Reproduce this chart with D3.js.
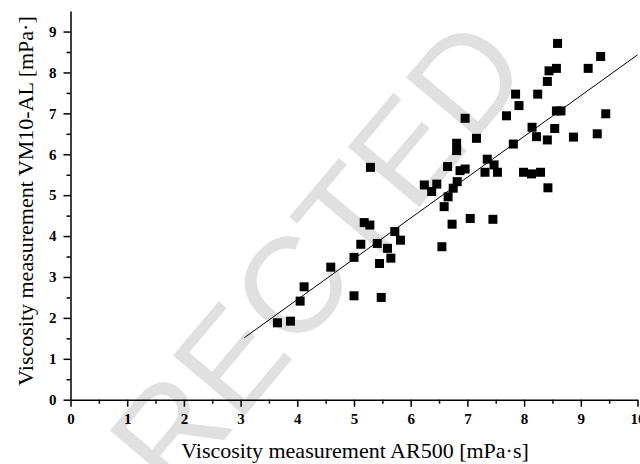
<!DOCTYPE html>
<html>
<head>
<meta charset="utf-8">
<script src="https://cdn.jsdelivr.net/npm/d3@7"></script>
<style>
  body { margin: 0; background: #fff; }
  text { font-family: "Liberation Serif", "Times New Roman", serif; }
  .tick text { font-size: 15px; font-weight: bold; fill: #000; }
</style>
</head>
<body>
<svg id="chart"></svg>
<script>
// -----------------------------------------------------------------------
// Data
// -----------------------------------------------------------------------

// AR500 viscosity (x) and VM10-AL viscosity (y), one entry per sample
const AR500 = [3.65, 3.88, 4.05, 4.12, 4.59, 5.00, 5.48, 5.00, 5.12, 5.18,
  5.28, 5.41, 5.45, 5.59, 5.65, 5.72, 5.82, 5.29, 6.96, 7.69,
  7.16, 6.81, 6.81, 7.81, 7.35, 7.47, 6.65, 6.87, 6.96, 7.31,
  7.53, 6.82, 6.24, 6.46, 6.37, 6.75, 6.66, 6.59, 6.73, 7.05,
  7.45, 6.55, 7.99, 8.13, 8.29, 8.42, 8.59, 9.35, 8.44, 8.57,
  9.13, 8.41, 7.85, 8.24, 7.91, 8.57, 8.65, 9.44, 8.14, 8.54,
  8.22, 8.41, 8.87, 9.29];
const VM10AL = [1.88, 1.92, 2.41, 2.76, 3.24, 2.54, 2.50, 3.48, 3.80, 4.33,
  4.27, 3.82, 3.33, 3.70, 3.46, 4.11, 3.90, 5.68, 6.88, 6.94,
  6.39, 6.27, 6.09, 6.25, 5.88, 5.74, 5.70, 5.60, 5.64, 5.56,
  5.56, 5.33, 5.25, 5.27, 5.09, 5.17, 4.96, 4.72, 4.29, 4.43,
  4.41, 3.74, 5.56, 5.52, 5.56, 5.18, 8.71, 8.39, 8.04, 8.10,
  8.10, 7.78, 7.47, 7.47, 7.19, 7.06, 7.06, 6.99, 6.66, 6.63,
  6.43, 6.35, 6.42, 6.50];

// end points of the fitted line
const fitX = [3.06, 10];
const fitY = [1.51, 8.43];

const xTickValues = [0, 1, 2, 3, 4, 5, 6, 7, 8, 9, 10];
const yTickValues = [0, 1, 2, 3, 4, 5, 6, 7, 8, 9];

const X_TITLE = "Viscosity measurement AR500 [mPa·s]";
const Y_TITLE = "Viscosity measurement VM10-AL [mPa·]";
const WATERMARK = "RECTED";

// -----------------------------------------------------------------------
// Layout
// -----------------------------------------------------------------------

const WIDTH = 640;
const HEIGHT = 464;
const MARKER = 9;

const svg = d3.select("#chart")
  .attr("width", WIDTH)
  .attr("height", HEIGHT);

const xScale = d3.scaleLinear().domain([0, 10]).range([70.5, 637.5]);
const yScale = d3.scaleLinear().domain([0, 9.5]).range([399.7, 11.1]);

// faint watermark behind everything
svg.append("text")
  .attr("transform", "translate(318,255) rotate(-50)")
  .attr("text-anchor", "middle")
  .attr("dominant-baseline", "central")
  .style("font-family", "'Liberation Sans', Arial, sans-serif")
  .attr("font-size", 136)
  .attr("fill", "#e0e0e0")
  .text(WATERMARK);

// minor ticks every 0.5
svg.append("g")
  .attr("transform", `translate(0, ${yScale(0)})`)
  .call(d3.axisBottom(xScale).tickValues(d3.range(0.5, 10, 1)).tickSize(4).tickFormat(""))
  .call(g => g.select(".domain").remove());
svg.append("g")
  .attr("transform", `translate(${xScale(0)}, 0)`)
  .call(d3.axisLeft(yScale).tickValues(d3.range(0.5, 9.5, 1)).tickSize(4).tickFormat(""))
  .call(g => g.select(".domain").remove());

// major axes
svg.append("g")
  .attr("transform", `translate(0, ${yScale(0)})`)
  .call(d3.axisBottom(xScale).tickValues(xTickValues).tickSize(7).tickSizeOuter(0).tickPadding(7));
svg.append("g")
  .attr("transform", `translate(${xScale(0)}, 0)`)
  .call(d3.axisLeft(yScale).tickValues(yTickValues).tickSize(7).tickSizeOuter(0).tickPadding(7));

svg.selectAll(".tick line, .domain")
  .attr("stroke", "#000")
  .attr("stroke-width", 1.5);

// fitted line
svg.append("line")
  .attr("x1", xScale(fitX[0]))
  .attr("y1", yScale(fitY[0]))
  .attr("x2", xScale(fitX[1]))
  .attr("y2", yScale(fitY[1]))
  .attr("stroke", "#000")
  .attr("stroke-width", 1);

// square markers
svg.append("g")
  .selectAll("rect")
  .data(AR500.map((x, i) => [x, VM10AL[i]]))
  .join("rect")
  .attr("x", d => xScale(d[0]) - MARKER / 2)
  .attr("y", d => yScale(d[1]) - MARKER / 2)
  .attr("width", MARKER)
  .attr("height", MARKER)
  .attr("fill", "#000");

// axis titles
svg.append("text")
  .attr("x", 355)
  .attr("y", 458)
  .attr("text-anchor", "middle")
  .attr("font-size", 22)
  .text(X_TITLE);

svg.append("text")
  .attr("transform", "translate(33, 201) rotate(-90)")
  .attr("text-anchor", "middle")
  .attr("font-size", 22)
  .text(Y_TITLE);
</script>
</body>
</html>
